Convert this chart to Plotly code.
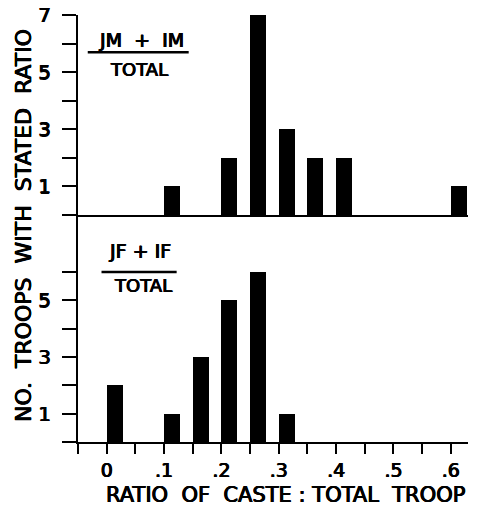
import plotly.graph_objects as go

# Data
male_x = [0.10, 0.20, 0.25, 0.30, 0.35, 0.40, 0.60]
male_counts = [1, 2, 7, 3, 2, 2, 1]
female_x = [0.00, 0.10, 0.15, 0.20, 0.25, 0.30]
female_counts = [2, 1, 3, 5, 6, 1]

x_tickvals = [-0.05, 0, 0.05, 0.1, 0.15, 0.2, 0.25, 0.3, 0.35, 0.4, 0.45, 0.5, 0.55, 0.6]
x_ticktext = ["", "0", "", ".1", "", ".2", "", ".3", "", ".4", "", ".5", "", ".6"]
top_yvals = [0, 1, 2, 3, 4, 5, 6, 7]
top_ytext = ["", "1", "", "3", "", "5", "", "7"]
bot_yvals = [0, 1, 2, 3, 4, 5, 6]
bot_ytext = ["", "1", "", "3", "", "5", ""]

FONT = "DejaVu Sans"
HEAVY = "0.6px 0px 0px black, -0.4px 0px 0px black, 0px 0.4px 0px black"
BAR_W = 0.028

W, H = 483, 507
ML, MR, MT, MB = 78, 15, 15, 65
pw = W - ML - MR
ph = H - MT - MB

fig = go.Figure()
fig.add_trace(go.Bar(x=male_x, y=male_counts, width=BAR_W, offset=0,
                     marker=dict(color="black", line=dict(width=0)),
                     xaxis="x2", yaxis="y2", showlegend=False))
fig.add_trace(go.Bar(x=female_x, y=female_counts, width=BAR_W, offset=0,
                     marker=dict(color="black", line=dict(width=0)),
                     xaxis="x", yaxis="y", showlegend=False))

split = 227 / 427
xr = [-0.05, 0.63]
ytickfont = dict(family=FONT, size=20, color="black", shadow=HEAVY)
xtickfont = dict(family=FONT, size=19, color="black", shadow=HEAVY)
axis_common = dict(showline=True, linecolor="black", linewidth=2, showgrid=False,
                   zeroline=False, tickcolor="black", tickwidth=2, automargin=False)

fig.update_layout(
    width=W, height=H,
    margin=dict(l=ML, r=MR, t=MT, b=MB, autoexpand=False),
    paper_bgcolor="white", plot_bgcolor="white",
    bargap=0,
    xaxis=dict(range=xr, tickvals=x_tickvals, ticktext=x_ticktext, ticks="outside",
               ticklen=10, anchor="y", ticklabelstandoff=0, tickfont=xtickfont, **axis_common),
    xaxis2=dict(range=xr, matches="x", showticklabels=False, ticks="", anchor="y2",
                **axis_common),
    yaxis=dict(range=[0, 8], domain=[0, split], tickvals=bot_yvals, ticktext=bot_ytext,
               ticks="outside", ticklen=14, anchor="x", ticklabelstandoff=7,
               tickfont=ytickfont, **axis_common),
    yaxis2=dict(range=[0, 7], domain=[split, 1], tickvals=top_yvals, ticktext=top_ytext,
                ticks="outside", ticklen=14, anchor="x2", ticklabelstandoff=7,
                tickfont=ytickfont, **axis_common),
)

# Fraction labels
txt = dict(family=FONT, size=19, color="black", shadow=HEAVY)
txt_small = dict(family=FONT, size=18, color="black", shadow=HEAVY)
fig.add_annotation(x=0.061, y=6.12, xref="x2", yref="y2", text="JM  +  IM", showarrow=False, font=txt)
fig.add_annotation(x=0.056, y=5.1, xref="x2", yref="y2", text="TOTAL", showarrow=False, font=txt_small)
fig.add_shape(type="line", x0=-0.033, x1=0.143, y0=5.7, y1=5.7, xref="x2", yref="y2",
              line=dict(color="black", width=2.5))
fig.add_annotation(x=0.0575, y=6.73, xref="x", yref="y", text="JF + IF", showarrow=False, font=txt)
fig.add_annotation(x=0.064, y=5.5, xref="x", yref="y", text="TOTAL", showarrow=False, font=txt_small)
fig.add_shape(type="line", x0=-0.009, x1=0.122, y0=5.99, y1=5.99, xref="x", yref="y",
              line=dict(color="black", width=2.5))

# Axis titles (placed by pixel centre, converted to paper coords)
ytitle_px = (23, 226)
xtitle_px = (285, 495)
ytitlefont = dict(family=FONT, size=22, color="black", shadow=HEAVY)
xtitlefont = dict(family=FONT, size=21, color="black", shadow=HEAVY)
fig.add_annotation(x=(ytitle_px[0] - ML) / pw, y=(H - MB - ytitle_px[1]) / ph,
                   xref="paper", yref="paper", xanchor="center", yanchor="middle",
                   text="NO.  TROOPS  WITH  STATED  RATIO",
                   showarrow=False, textangle=-90, font=ytitlefont)
fig.add_annotation(x=(xtitle_px[0] - ML) / pw, y=(H - MB - xtitle_px[1]) / ph,
                   xref="paper", yref="paper", xanchor="center", yanchor="middle",
                   text="RATIO  OF  CASTE : TOTAL  TROOP",
                   showarrow=False, font=xtitlefont)

fig.write_html("out.html")
